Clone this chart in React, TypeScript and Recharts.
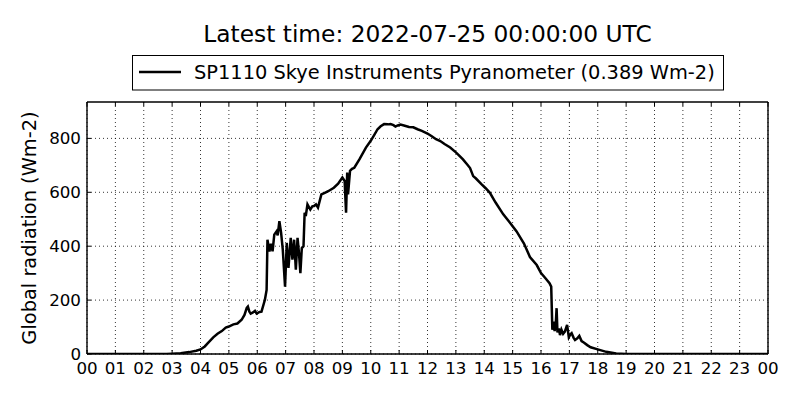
import React from 'react';
import { LineChart, Line, XAxis, YAxis, CartesianGrid } from 'recharts';

const hours: number[] = [
  0, 1, 2, 2.8, 3.0, 3.3, 3.6, 3.85, 4.0, 4.15, 4.3, 4.45, 4.6, 4.75, 4.89, 5.0, 5.16, 5.3, 5.45,
  5.55, 5.63, 5.67, 5.72, 5.77, 5.85, 5.92, 5.98, 6.08, 6.15, 6.27, 6.33, 6.36, 6.43, 6.48, 6.54,
  6.6, 6.68, 6.72, 6.78, 6.84, 6.9, 6.98, 7.04, 7.1, 7.18, 7.24, 7.3, 7.36, 7.42, 7.47, 7.52, 7.57,
  7.63, 7.67, 7.71, 7.77, 7.87, 7.94, 8.0, 8.07, 8.14, 8.26, 8.38, 8.5, 8.7, 8.85, 9.0, 9.08, 9.13,
  9.17, 9.2, 9.27, 9.34, 9.42, 9.6, 9.83, 10.0, 10.12, 10.24, 10.35, 10.47, 10.6, 10.7, 10.8, 10.87,
  10.95, 11.05, 11.2, 11.35, 11.5, 11.65, 11.8, 12.0, 12.15, 12.3, 12.45, 12.6, 12.8, 13.0, 13.1,
  13.25, 13.4, 13.5, 13.61, 13.7, 13.9, 14.05, 14.2, 14.4, 14.67, 14.9, 15.14, 15.4, 15.61, 15.85,
  16.0, 16.15, 16.3, 16.36, 16.4, 16.45, 16.48, 16.52, 16.55, 16.58, 16.63, 16.67, 16.72, 16.78,
  16.84, 16.92, 16.98, 17.03, 17.08, 17.15, 17.2, 17.28, 17.35, 17.43, 17.52, 17.63, 17.75, 18.0,
  18.3, 18.65, 19.0, 19.5, 20, 21, 22, 23, 24,
];

const radiation: number[] = [
  0, 0, 0, 0, 1, 3, 7, 12, 17, 28, 45, 62, 75, 85, 98, 102, 110, 113, 127,
  145, 171, 176, 158, 150, 154, 160, 150, 156, 157, 201, 238, 424, 380, 409, 381,
  443, 455, 440, 493, 450, 387, 250, 412, 319, 431, 350, 424, 313, 431, 375, 300, 393,
  400, 524, 512, 555, 536, 548, 549, 555, 543, 592, 598, 604, 617, 632, 655, 642, 524,
  673, 592, 680, 687, 691, 722, 766, 791, 812, 834, 845, 853, 852, 853, 849, 844,
  848, 851, 847, 842, 841, 834, 828, 818, 808, 797, 790, 779, 766, 748, 738,
  722, 703, 690, 660, 652, 630, 615, 598, 562, 518, 488, 455, 410, 360, 330,
  300, 282, 263, 250, 90, 120, 85, 110, 170, 80, 95, 70, 90, 75,
  83, 108, 62, 72, 77, 60, 52, 58, 67, 48, 42, 33, 25, 17,
  8, 2, 0, 0, 0, 0, 0, 0, 0,
];

const xTicks: number[] = [0, 1, 2, 3, 4, 5, 6, 7, 8, 9, 10, 11, 12, 13, 14, 15, 16, 17, 18, 19, 20, 21, 22, 23, 24];
const yTicks: number[] = [0, 200, 400, 600, 800];

const titleText = 'Latest time: 2022-07-25 00:00:00 UTC';
const seriesName = 'SP1110 Skye Instruments Pyranometer (0.389 Wm-2)';
const yLabelText = 'Global radiation (Wm-2)';

const data = hours.map((h, i) => ({ h, v: radiation[i] }));

const FONT = '"DejaVu Sans", sans-serif';
const fmtHour = (h: number) => String(h % 24).padStart(2, '0');

const YLabel = (props: any) => {
  const vb = props.viewBox || {};
  const cy = (vb.y ?? 102) + (vb.height ?? 252) / 2;
  return (
    <text
      transform={`translate(36, ${cy}) rotate(-90)`}
      x={0}
      y={0}
      textAnchor="middle"
      fontFamily={FONT}
      fontSize={19.4}
      fill="#000"
    >
      {yLabelText}
    </text>
  );
};

export default function App() {
  const tickStyle = { fontFamily: FONT, fontSize: 16.7, fill: '#000' };
  const axisLineStyle = { stroke: '#000', strokeWidth: 1.4 };
  const tickLineStyle = { stroke: '#000', strokeWidth: 1 };
  return (
    <div style={{ position: 'absolute', left: 0, top: 0, width: 800, height: 400, background: '#fff' }}>
      <LineChart
        width={800}
        height={400}
        data={data}
        margin={{ top: 101, right: 31, bottom: 0, left: 0 }}
      >
        <CartesianGrid
          stroke="#000"
          strokeWidth={0.8}
          strokeDasharray="1 3"
          horizontalValues={yTicks}
          verticalValues={xTicks}
        />
        <XAxis
          dataKey="h"
          type="number"
          domain={[0, 24]}
          ticks={xTicks}
          interval={0}
          tickFormatter={fmtHour}
          height={46}
          tickSize={-4}
          tickMargin={12}
          tick={tickStyle}
          axisLine={axisLineStyle}
          tickLine={tickLineStyle}
          allowDataOverflow
        />
        <XAxis
          xAxisId="top"
          orientation="top"
          dataKey="h"
          type="number"
          domain={[0, 24]}
          ticks={xTicks}
          interval={0}
          tickFormatter={() => ''}
          height={1}
          tickSize={-4}
          axisLine={axisLineStyle}
          tickLine={tickLineStyle}
        />
        <YAxis
          type="number"
          domain={[0, 935]}
          ticks={yTicks}
          interval={0}
          width={87}
          tickSize={-4}
          tickMargin={10}
          tick={tickStyle}
          axisLine={axisLineStyle}
          tickLine={tickLineStyle}
          label={<YLabel />}
          allowDataOverflow
        />
        <YAxis
          yAxisId="right"
          orientation="right"
          type="number"
          domain={[0, 935]}
          ticks={yTicks}
          interval={0}
          width={1}
          tickSize={-4}
          tickFormatter={() => ''}
          axisLine={axisLineStyle}
          tickLine={tickLineStyle}
        />
        <Line
          type="linear"
          dataKey="v"
          stroke="#000"
          strokeWidth={2.5}
          dot={false}
          isAnimationActive={false}
          name={seriesName}
        />
      </LineChart>
      <svg
        width={800}
        height={100}
        style={{ position: 'absolute', left: 0, top: 0, pointerEvents: 'none' }}
      >
        <text x={427.5} y={42.3} textAnchor="middle" fontFamily={FONT} fontSize={23.3} fill="#000">
          {titleText}
        </text>
        <rect x={132.5} y={55.5} width={591} height={34.5} fill="#fff" stroke="#000" strokeWidth={1} />
        <line x1={139} x2={181} y1={72} y2={72} stroke="#000" strokeWidth={2.5} />
        <text x={194} y={79} fontFamily={FONT} fontSize={19.4} fill="#000">
          {seriesName}
        </text>
      </svg>
    </div>
  );
}
